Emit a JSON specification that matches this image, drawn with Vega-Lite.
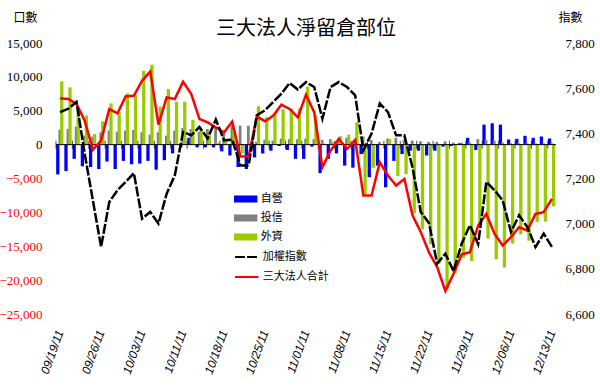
{
  "$schema": "https://vega.github.io/schema/vega-lite/v6.json",
  "width": 500,
  "height": 271,
  "autosize": {"type": "none"},
  "padding": {"left": 56, "top": 43, "right": 44, "bottom": 72},
  "background": "white",
  "config": {"view": {"stroke": null}, "axis": {"grid": false, "domain": false, "ticks": false, "labelOverlap": false}},
  "title": {"text": "三大法人淨留倉部位", "font": "Noto Sans CJK TC", "fontSize": 20, "fontWeight": "normal", "color": "black", "anchor": "middle", "frame": "group", "offset": 5, "baseline": "bottom", "dy": 53},
  "data": {"values": [
    {"d": "09/19/11", "self": -4400, "trust": 2210, "foreign": 9330, "total": 6830, "taiex": 7494},
    {"d": "09/20/11", "self": -3900, "trust": 2310, "foreign": 8450, "total": 6740, "taiex": 7509},
    {"d": "09/21/11", "self": -2100, "trust": 2650, "foreign": 5500, "total": 6000, "taiex": 7539},
    {"d": "09/22/11", "self": -3200, "trust": 1330, "foreign": 4300, "total": 3540, "taiex": 7310},
    {"d": "09/23/11", "self": -3300, "trust": 1180, "foreign": 1570, "total": -740, "taiex": 7103},
    {"d": "09/26/11", "self": -3600, "trust": 1820, "foreign": 3440, "total": 590, "taiex": 6897},
    {"d": "09/27/11", "self": -2500, "trust": 2060, "foreign": 6090, "total": 5260, "taiex": 7096},
    {"d": "09/28/11", "self": -3600, "trust": 1910, "foreign": 4770, "total": 4620, "taiex": 7148},
    {"d": "09/29/11", "self": -2400, "trust": 2060, "foreign": 7570, "total": 7120, "taiex": 7185},
    {"d": "09/30/11", "self": -2900, "trust": 2160, "foreign": 7320, "total": 7220, "taiex": 7224},
    {"d": "10/03/11", "self": -2800, "trust": 1820, "foreign": 10900, "total": 9430, "taiex": 7022},
    {"d": "10/04/11", "self": -2400, "trust": 1470, "foreign": 11800, "total": 10800, "taiex": 7052},
    {"d": "10/05/11", "self": -3700, "trust": 1820, "foreign": 5600, "total": 2950, "taiex": 7000},
    {"d": "10/06/11", "self": -2300, "trust": 1330, "foreign": 8200, "total": 6980, "taiex": 7133},
    {"d": "10/07/11", "self": -1300, "trust": 2060, "foreign": 6340, "total": 6740, "taiex": 7214},
    {"d": "10/11/11", "self": -400, "trust": 2460, "foreign": 6340, "total": 9290, "taiex": 7406},
    {"d": "10/12/11", "self": 1000, "trust": 2310, "foreign": 3640, "total": 7470, "taiex": 7391},
    {"d": "10/13/11", "self": -400, "trust": 1910, "foreign": 2280, "total": 3790, "taiex": 7428},
    {"d": "10/14/11", "self": -400, "trust": 2310, "foreign": 1380, "total": 3290, "taiex": 7377},
    {"d": "10/17/11", "self": -400, "trust": 2650, "foreign": 300, "total": 2550, "taiex": 7461},
    {"d": "10/18/11", "self": -1000, "trust": 2060, "foreign": 760, "total": 1820, "taiex": 7369},
    {"d": "10/19/11", "self": -1600, "trust": 2800, "foreign": 2190, "total": 3390, "taiex": 7372},
    {"d": "10/20/11", "self": -3300, "trust": 2800, "foreign": -1270, "total": -1770, "taiex": 7258},
    {"d": "10/21/11", "self": -3600, "trust": 2800, "foreign": -970, "total": -1770, "taiex": 7258},
    {"d": "10/24/11", "self": -1900, "trust": 400, "foreign": 5670, "total": 4170, "taiex": 7480},
    {"d": "10/25/11", "self": -1300, "trust": 700, "foreign": 4040, "total": 3440, "taiex": 7502},
    {"d": "10/26/11", "self": -900, "trust": 600, "foreign": 4570, "total": 4270, "taiex": 7539},
    {"d": "10/27/11", "self": -200, "trust": 900, "foreign": 5200, "total": 5900, "taiex": 7576},
    {"d": "10/28/11", "self": -800, "trust": 800, "foreign": 5260, "total": 5260, "taiex": 7623},
    {"d": "10/31/11", "self": -2100, "trust": 800, "foreign": 5330, "total": 4030, "taiex": 7594},
    {"d": "11/01/11", "self": -2100, "trust": 900, "foreign": 8570, "total": 7370, "taiex": 7627},
    {"d": "11/02/11", "self": -300, "trust": 800, "foreign": 4270, "total": 4770, "taiex": 7605},
    {"d": "11/03/11", "self": -4200, "trust": 700, "foreign": 160, "total": -3340, "taiex": 7465},
    {"d": "11/04/11", "self": -2100, "trust": 800, "foreign": 420, "total": -880, "taiex": 7605},
    {"d": "11/07/11", "self": -1300, "trust": 900, "foreign": 1240, "total": 840, "taiex": 7627},
    {"d": "11/08/11", "self": -3100, "trust": 1000, "foreign": 1460, "total": -640, "taiex": 7605},
    {"d": "11/09/11", "self": -3400, "trust": 800, "foreign": 3290, "total": 690, "taiex": 7568},
    {"d": "11/10/11", "self": -1400, "trust": 1200, "foreign": -7320, "total": -7520, "taiex": 7325},
    {"d": "11/11/11", "self": -4800, "trust": 700, "foreign": -3420, "total": -7520, "taiex": 7399},
    {"d": "11/14/11", "self": -3100, "trust": 400, "foreign": 100, "total": -2600, "taiex": 7532},
    {"d": "11/15/11", "self": -6300, "trust": 900, "foreign": 830, "total": -4570, "taiex": 7494},
    {"d": "11/16/11", "self": -2400, "trust": 1000, "foreign": -4640, "total": -6040, "taiex": 7391},
    {"d": "11/17/11", "self": -1400, "trust": 700, "foreign": -4360, "total": -5060, "taiex": 7391},
    {"d": "11/18/11", "self": -900, "trust": 600, "foreign": -10150, "total": -10450, "taiex": 7248},
    {"d": "11/21/11", "self": -900, "trust": 500, "foreign": -12500, "total": -12900, "taiex": 7052},
    {"d": "11/22/11", "self": -1600, "trust": 400, "foreign": -14700, "total": -15900, "taiex": 7003},
    {"d": "11/23/11", "self": -900, "trust": 400, "foreign": -17570, "total": -18070, "taiex": 6823},
    {"d": "11/24/11", "self": -300, "trust": 500, "foreign": -21400, "total": -21600, "taiex": 6867},
    {"d": "11/25/11", "self": -200, "trust": 300, "foreign": -18960, "total": -19060, "taiex": 6790},
    {"d": "11/28/11", "self": 200, "trust": 300, "foreign": -16700, "total": -16200, "taiex": 6912},
    {"d": "11/29/11", "self": 1000, "trust": 300, "foreign": -17170, "total": -15870, "taiex": 6993},
    {"d": "11/30/11", "self": -800, "trust": 800, "foreign": -11940, "total": -11940, "taiex": 6909},
    {"d": "12/01/11", "self": 2950, "trust": 700, "foreign": -13870, "total": -10220, "taiex": 7185},
    {"d": "12/02/11", "self": 3150, "trust": 600, "foreign": -16910, "total": -13160, "taiex": 7148},
    {"d": "12/05/11", "self": 2950, "trust": 300, "foreign": -18140, "total": -14890, "taiex": 7103},
    {"d": "12/06/11", "self": 750, "trust": 200, "foreign": -14610, "total": -13660, "taiex": 6963},
    {"d": "12/07/11", "self": 850, "trust": 200, "foreign": -13240, "total": -12190, "taiex": 7037},
    {"d": "12/08/11", "self": 1300, "trust": 200, "foreign": -14180, "total": -12680, "taiex": 6985},
    {"d": "12/09/11", "self": 1000, "trust": 200, "foreign": -11420, "total": -10220, "taiex": 6897},
    {"d": "12/12/11", "self": 1200, "trust": 200, "foreign": -11370, "total": -9970, "taiex": 6956},
    {"d": "12/13/11", "self": 900, "trust": 200, "foreign": -9110, "total": -8010, "taiex": 6897}
  ]},
  "layer": [
    {
      "layer": [
        {
          "mark": {"type": "bar", "width": 3.3, "xOffset": -2.3},
          "encoding": {
            "x": {"field": "d", "type": "ordinal", "sort": null, "scale": {"paddingInner": 0, "paddingOuter": 0}, "axis": {"title": null, "values": ["09/19/11","09/26/11","10/03/11","10/11/11","10/18/11","10/25/11","11/01/11","11/08/11","11/15/11","11/22/11","11/29/11","12/06/11","12/13/11"], "labelAngle": -70, "labelFont": "Liberation Sans", "labelFontStyle": "italic", "labelFontSize": 12, "labelColor": "black", "labelPadding": 16}},
            "y": {"field": "self", "type": "quantitative", "scale": {"domain": [-25000, 15000], "nice": false}, "axis": {"orient": "left", "title": "口數", "titleAngle": 0, "titleX": -31, "titleY": -26, "titleAlign": "center", "titleBaseline": "middle", "titleFont": "Noto Sans CJK TC", "titleFontSize": 12, "titleFontWeight": "normal", "titleColor": "black", "values": [-25000, -20000, -15000, -10000, -5000, 0, 5000, 10000, 15000], "format": ",.0f", "labelOverlap": false, "labelFont": "Liberation Serif", "labelFontSize": 13, "labelColor": {"condition": {"test": "datum.value < 0", "value": "#ff0000"}, "value": "black"}, "labelPadding": 14}},
            "color": {"datum": "自營", "type": "nominal", "scale": {"domain": ["自營", "投信", "外資"], "range": ["#0000ff", "#808080", "#99cc00"]}, "legend": {"title": null, "orient": "none", "legendX": 180.7, "legendY": 147, "symbolType": "M-1.3,-0.39H1.3V0.39H-1.3Z", "symbolSize": 324, "symbolStrokeWidth": 0, "symbolOpacity": 1, "labelFont": "Noto Sans CJK TC", "labelFontSize": 11, "labelColor": "black", "labelOffset": 6, "rowPadding": 5, "padding": 0}}
          }
        },
        {
          "mark": {"type": "bar", "width": 2.8, "xOffset": -0.3},
          "encoding": {
            "x": {"field": "d", "type": "ordinal", "sort": null},
            "y": {"field": "trust", "type": "quantitative", "axis": {"orient": "left", "title": "口數", "titleAngle": 0, "titleX": -31, "titleY": -26, "titleAlign": "center", "titleBaseline": "middle", "titleFont": "Noto Sans CJK TC", "titleFontSize": 12, "titleFontWeight": "normal", "titleColor": "black", "values": [-25000, -20000, -15000, -10000, -5000, 0, 5000, 10000, 15000], "format": ",.0f", "labelOverlap": false, "labelFont": "Liberation Serif", "labelFontSize": 13, "labelColor": {"condition": {"test": "datum.value < 0", "value": "#ff0000"}, "value": "black"}, "labelPadding": 14}},
            "color": {"datum": "投信", "type": "nominal"}
          }
        },
        {
          "mark": {"type": "bar", "width": 3.3, "xOffset": 1.7},
          "encoding": {
            "x": {"field": "d", "type": "ordinal", "sort": null},
            "y": {"field": "foreign", "type": "quantitative", "axis": {"orient": "left", "title": "口數", "titleAngle": 0, "titleX": -31, "titleY": -26, "titleAlign": "center", "titleBaseline": "middle", "titleFont": "Noto Sans CJK TC", "titleFontSize": 12, "titleFontWeight": "normal", "titleColor": "black", "values": [-25000, -20000, -15000, -10000, -5000, 0, 5000, 10000, 15000], "format": ",.0f", "labelOverlap": false, "labelFont": "Liberation Serif", "labelFontSize": 13, "labelColor": {"condition": {"test": "datum.value < 0", "value": "#ff0000"}, "value": "black"}, "labelPadding": 14}},
            "color": {"datum": "外資", "type": "nominal"}
          }
        },
        {
          "data": {"values": [{"zero": 0}]},
          "mark": {"type": "rule", "color": "black", "strokeWidth": 1},
          "encoding": {"y": {"field": "zero", "type": "quantitative", "axis": {"orient": "left", "title": "口數", "titleAngle": 0, "titleX": -31, "titleY": -26, "titleAlign": "center", "titleBaseline": "middle", "titleFont": "Noto Sans CJK TC", "titleFontSize": 12, "titleFontWeight": "normal", "titleColor": "black", "values": [-25000, -20000, -15000, -10000, -5000, 0, 5000, 10000, 15000], "format": ",.0f", "labelOverlap": false, "labelFont": "Liberation Serif", "labelFontSize": 13, "labelColor": {"condition": {"test": "datum.value < 0", "value": "#ff0000"}, "value": "black"}, "labelPadding": 14}}}
        },
        {
          "transform": [{"filter": {"field": "d", "oneOf": ["09/19/11","09/21/11","09/23/11","09/27/11","09/29/11","10/03/11","10/05/11","10/07/11","10/12/11","10/14/11","10/18/11","10/20/11","10/24/11","10/26/11","10/28/11","11/01/11","11/03/11","11/07/11","11/09/11","11/11/11","11/15/11","11/17/11","11/21/11","11/23/11","11/25/11","11/29/11","12/01/11","12/05/11","12/07/11","12/09/11","12/13/11"]}}],
          "mark": {"type": "tick", "orient": "vertical", "size": 8, "thickness": 1, "color": "black", "xOffset": -4.1},
          "encoding": {
            "x": {"field": "d", "type": "ordinal", "sort": null},
            "y": {"datum": 0, "type": "quantitative", "axis": {"orient": "left", "title": "口數", "titleAngle": 0, "titleX": -31, "titleY": -26, "titleAlign": "center", "titleBaseline": "middle", "titleFont": "Noto Sans CJK TC", "titleFontSize": 12, "titleFontWeight": "normal", "titleColor": "black", "values": [-25000, -20000, -15000, -10000, -5000, 0, 5000, 10000, 15000], "format": ",.0f", "labelOverlap": false, "labelFont": "Liberation Serif", "labelFontSize": 13, "labelColor": {"condition": {"test": "datum.value < 0", "value": "#ff0000"}, "value": "black"}, "labelPadding": 14}}
          }
        },
        {
          "mark": {"type": "line", "strokeWidth": 2.5},
          "encoding": {
            "x": {"field": "d", "type": "ordinal", "sort": null},
            "y": {"field": "total", "type": "quantitative", "axis": {"orient": "left", "title": "口數", "titleAngle": 0, "titleX": -31, "titleY": -26, "titleAlign": "center", "titleBaseline": "middle", "titleFont": "Noto Sans CJK TC", "titleFontSize": 12, "titleFontWeight": "normal", "titleColor": "black", "values": [-25000, -20000, -15000, -10000, -5000, 0, 5000, 10000, 15000], "format": ",.0f", "labelOverlap": false, "labelFont": "Liberation Serif", "labelFontSize": 13, "labelColor": {"condition": {"test": "datum.value < 0", "value": "#ff0000"}, "value": "black"}, "labelPadding": 14}},
            "stroke": {"datum": "三大法人合計", "type": "nominal", "scale": {"domain": ["加權指數", "三大法人合計"], "range": ["#000000", "#ff0000"]}, "legend": {"title": null, "orient": "none", "legendX": 180.7, "legendY": 204, "symbolType": "M-1.3,0H1.3", "symbolSize": 324, "symbolStrokeWidth": 2, "labelFont": "Noto Sans CJK TC", "labelFontSize": 11, "labelColor": "black", "labelOffset": 6, "rowPadding": 5, "padding": 0}},
            "strokeDash": {"datum": "三大法人合計", "type": "nominal", "scale": {"domain": ["加權指數", "三大法人合計"], "range": [[10, 2], [1, 0]]}, "legend": {"title": null, "orient": "none", "legendX": 180.7, "legendY": 204, "symbolType": "M-1.3,0H1.3", "symbolSize": 324, "symbolStrokeWidth": 2, "labelFont": "Noto Sans CJK TC", "labelFontSize": 11, "labelColor": "black", "labelOffset": 6, "rowPadding": 5, "padding": 0}}
          }
        }
      ]
    },
    {
      "mark": {"type": "line", "strokeWidth": 2.5},
      "encoding": {
        "x": {"field": "d", "type": "ordinal", "sort": null},
        "y": {"field": "taiex", "type": "quantitative", "scale": {"domain": [6600, 7800], "nice": false}, "axis": {"orient": "right", "title": "指數", "titleAngle": 0, "titleX": 14, "titleY": -26, "titleAlign": "center", "titleBaseline": "middle", "titleFont": "Noto Sans CJK TC", "titleFontSize": 12, "titleFontWeight": "normal", "titleColor": "black", "values": [6600, 6800, 7000, 7200, 7400, 7600, 7800], "format": ",.0f", "labelOverlap": false, "labelFont": "Liberation Serif", "labelFontSize": 13, "labelColor": "black", "labelPadding": 9}},
        "stroke": {"datum": "加權指數", "type": "nominal"},
        "strokeDash": {"datum": "加權指數", "type": "nominal"}
      }
    }
  ],
  "resolve": {"scale": {"y": "independent"}}
}
